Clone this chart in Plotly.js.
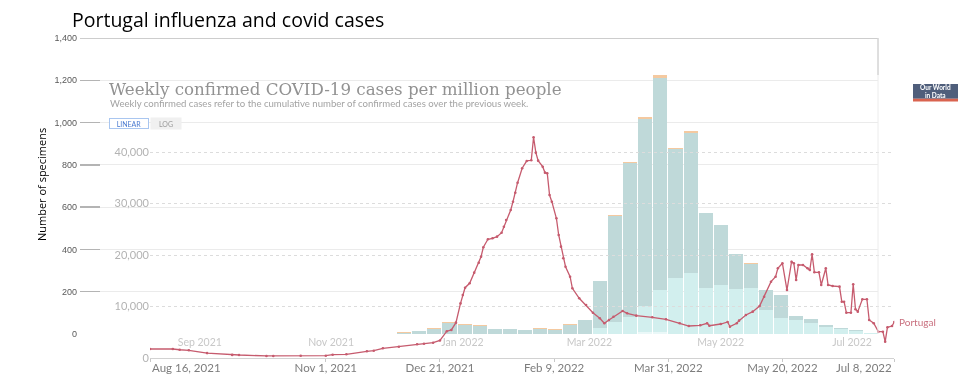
<!DOCTYPE html>
<html><head><meta charset="utf-8">
<script src="https://cdn.plot.ly/plotly-3.0.1.min.js"></script>
<style>
html,body{margin:0;padding:0;background:#fff;}
#chart{width:965px;height:380px;}
.subplot.x2y2 .scatterlayer{mix-blend-mode:multiply;}
</style></head><body><div id="chart"></div>
<script>
// ---- Influenza (weekly specimens) ----
const fluWeeks = ['2021-11-28','2021-12-05','2021-12-12','2021-12-19','2021-12-26','2022-01-02','2022-01-09','2022-01-16','2022-01-23','2022-01-30','2022-02-06','2022-02-13','2022-02-20','2022-02-27','2022-03-06','2022-03-13','2022-03-20','2022-03-27','2022-04-03','2022-04-10','2022-04-17','2022-04-24','2022-05-01','2022-05-08','2022-05-15','2022-05-22','2022-05-29','2022-06-05','2022-06-12','2022-06-19','2022-06-26','2022-07-03','2022-07-10'];
const fluWhite  = [0,0,0,0,0,0,0,0,0,0,0,0,0,0,0,0,0,8,8,0,0,0,0,0,0,0,0,0,0,0,0,0,0];
const fluCyan   = [0,0,0,0,0,0,0,0,0,0,0,0,0,0,30,58,80,124,200,266,289,218,232,213,216,113,75,66,50,32,22,14,4];
const fluTeal   = [2,7,12,22,51,44,40,23,23,18,24,21,43,66,219,500,730,884,1004,611,664,353,283,164,117,95,109,21,19,11,6,4,2];
const fluOrange = [0,1,2,5,6,5,2,1,1,3,4,1,4,2,2,5,5,9,13,2,7,3,1,1,1,0,0,0,0,0,0,0,0];
const fluYTicks = [0,200,400,600,800,1000,1200,1400];
const fluYLabels = ['0','200','400','600','800','1,000','1,200','1,400'];
const fluMonthTicks = ['2021-09-01','2021-11-01','2022-01-01','2022-03-01','2022-05-01','2022-07-01'];
const fluMonthLabels = ['Sep 2021','Nov 2021','Jan 2022','Mar 2022','May 2022','Jul 2022'];

// ---- COVID-19 weekly confirmed cases per million (Portugal) ----
const covidDates = ['2021-08-16','2021-08-26','2021-08-29','2021-09-02','2021-09-10','2021-09-21','2021-09-24','2021-10-06','2021-10-09','2021-10-21','2021-11-01','2021-11-04','2021-11-10','2021-11-19','2021-11-22','2021-11-26','2021-12-03','2021-12-11','2021-12-14','2021-12-18','2021-12-21','2021-12-24','2021-12-26','2021-12-28','2021-12-30','2021-12-31','2022-01-01','2022-01-03','2022-01-05','2022-01-07','2022-01-08','2022-01-09','2022-01-11','2022-01-13','2022-01-15','2022-01-17','2022-01-18','2022-01-19','2022-01-21','2022-01-22','2022-01-23','2022-01-24','2022-01-26','2022-01-28','2022-01-30','2022-01-31','2022-02-01','2022-02-02','2022-02-04','2022-02-05','2022-02-06','2022-02-07','2022-02-08','2022-02-10','2022-02-11','2022-02-12','2022-02-13','2022-02-14','2022-02-16','2022-02-17','2022-02-20','2022-02-23','2022-02-26','2022-03-01','2022-03-03','2022-03-05','2022-03-07','2022-03-11','2022-03-13','2022-03-17','2022-03-24','2022-03-30','2022-04-05','2022-04-09','2022-04-14','2022-04-17','2022-04-18','2022-04-23','2022-04-26','2022-04-27','2022-04-30','2022-05-01','2022-05-04','2022-05-07','2022-05-10','2022-05-12','2022-05-15','2022-05-17','2022-05-18','2022-05-20','2022-05-22','2022-05-24','2022-05-25','2022-05-26','2022-05-27','2022-05-29','2022-05-31','2022-06-01','2022-06-02','2022-06-03','2022-06-05','2022-06-06','2022-06-08','2022-06-09','2022-06-11','2022-06-14','2022-06-15','2022-06-16','2022-06-17','2022-06-19','2022-06-20','2022-06-21','2022-06-22','2022-06-24','2022-06-26','2022-06-27','2022-06-29','2022-07-01','2022-07-03','2022-07-04','2022-07-05','2022-07-07','2022-07-08'];
const covidValues = [1750,1750,1600,1500,950,600,580,400,390,450,450,640,720,1300,1420,1880,2180,2660,2780,2970,3400,5200,5450,6860,10600,12230,13650,14500,16570,18500,19670,21500,23050,23250,23560,24330,25500,26800,28740,30350,32100,34040,36840,38260,38390,42860,39870,38320,37150,35990,35870,31650,30350,27130,23890,21620,19360,17730,15790,13540,11590,10290,8800,7710,6740,7380,8020,9130,8680,8220,7900,7520,6740,6210,6350,6740,6270,6600,6990,6080,6740,7250,8350,9000,10100,11900,14820,15790,17420,18390,13200,18700,18390,15150,18060,18060,17420,17090,20140,16640,16640,14180,17420,14180,13980,13850,10930,10930,8800,8800,14310,9460,9000,11400,11400,7380,6740,5110,5110,3170,5960,6210,6990];
const covidTickDates = ['2021-08-16','2021-11-01','2021-12-21','2022-02-09','2022-03-31','2022-05-20','2022-07-08'];
const covidTickLabels = ['Aug 16, 2021','Nov 1, 2021','Dec 21, 2021','Feb 9, 2022','Mar 31, 2022','May 20, 2022','Jul 8, 2022'];
const covidYTicks = [0,10000,20000,30000,40000];
const covidYLabels = ['0','10,000','20,000','30,000','40,000'];
const covidCountry = 'Portugal';

const W = 965, H = 380;
const px = v => v / W;
const py = v => (H - v) / H;

const traces = [
  {type:'bar', x:fluWeeks, y:fluWhite,  marker:{color:'#eaf8f8'}, xaxis:'x', yaxis:'y'},
  {type:'bar', x:fluWeeks, y:fluCyan,   marker:{color:'#d2efee'}, xaxis:'x', yaxis:'y'},
  {type:'bar', x:fluWeeks, y:fluTeal,   marker:{color:'#bfd9d9'}, xaxis:'x', yaxis:'y'},
  {type:'bar', x:fluWeeks, y:fluOrange, marker:{color:'#f4c9a0'}, xaxis:'x', yaxis:'y'},
  {type:'scatter', mode:'lines+markers', x:covidDates, y:covidValues, xaxis:'x2', yaxis:'y2',
   line:{color:'#c65b6e', width:1.3}, marker:{color:'#c65b6e', size:2.6}}
];

const lastIdx = covidDates.length - 1;
const midTickText = covidTickLabels.map((t,i) => (i === 0 || i === covidTickLabels.length-1) ? '' : t);

const layout = {
  width: W, height: H,
  margin: {l:0, r:0, t:0, b:0},
  paper_bgcolor: '#ffffff',
  plot_bgcolor: 'rgba(0,0,0,0)',
  showlegend: false,
  barmode: 'stack',
  bargap: 0.07,
  hovermode: false,
  xaxis: {
    domain: [px(80), px(878)], anchor: 'y', type: 'date',
    range: ['2021-07-07 08:00', '2022-07-13 02:00'],
    tickvals: fluMonthTicks, ticktext: fluMonthLabels,
    showgrid: false, zeroline: false, showline: false, ticks: '',
    tickfont: {family: 'Lato', size: 10.5, color: '#c8c8c8'}
  },
  yaxis: {
    domain: [py(334), py(38)], anchor: 'x', range: [0, 1400],
    tickvals: fluYTicks, ticktext: fluYLabels,
    showgrid: true, gridcolor: '#ebebeb', gridwidth: 1,
    zeroline: false, showline: false,
    ticks: 'inside', ticklen: 20, tickwidth: 1.4, tickcolor: '#b4b4b4',
    ticklabelstandoff: 2,
    tickfont: {family: 'Liberation Sans', size: 9, color: '#595959'}
  },
  xaxis2: {
    domain: [px(150), px(894.3)], anchor: 'y2', type: 'date',
    range: ['2021-08-16', '2022-07-08'],
    tickvals: covidTickDates, ticktext: midTickText,
    showline: true, linecolor: '#d2d2d2', linewidth: 1,
    ticks: 'outside', ticklen: 3, tickcolor: '#c8c8c8',
    ticklabelstandoff: -4,
    showgrid: false, zeroline: false,
    tickfont: {family: 'Lato', size: 11.5, color: '#7d7d7d'}
  },
  yaxis2: {
    domain: [py(358), py(358 - 45000 * 0.00515)], anchor: 'x2', range: [0, 45000],
    tickvals: covidYTicks, ticktext: covidYLabels,
    showgrid: true, gridcolor: '#dcdcdc', griddash: 'dot', gridwidth: 1,
    zeroline: false, showline: false, ticks: '',
    tickfont: {family: 'Lato', size: 11, color: '#b3b3b3'}
  },
  shapes: [
    {type:'line', xref:'x domain', x0:0, x1:1, yref:'y', y0:1400, y1:1400, line:{color:'#bdbdbd', width:1.3}},
    {type:'line', xref:'x domain', x0:1, x1:1, yref:'y', y0:0, y1:1400, line:{color:'#ececec', width:1}},
    {type:'line', xref:'x domain', x0:1, x1:1, yref:'y', y0:1225, y1:1400, line:{color:'#c8c8c8', width:1}},
    {type:'rect', xref:'paper', yref:'paper', x0:px(913), x1:px(958), y0:py(98.7), y1:py(84), fillcolor:'#4f5e7b', line:{width:0}},
    {type:'rect', xref:'paper', yref:'paper', x0:px(913), x1:px(958), y0:py(101.5), y1:py(98.7), fillcolor:'#d9634f', line:{width:0}}
  ],
  annotations: [
    {text:'Portugal influenza and covid cases', xref:'paper', yref:'paper', x:px(70), y:py(19), xanchor:'left', yanchor:'middle', showarrow:false,
     font:{family:'Open Sans', size:19.5, color:'#000'}},
    {text:'Number of specimens', xref:'paper', yref:'paper', x:px(42), y:py(185), xanchor:'center', yanchor:'middle', textangle:-90, showarrow:false,
     font:{family:'Open Sans', size:11, color:'#000'}},
    {text:'Weekly confirmed COVID-19 cases per million people', xref:'paper', yref:'paper', x:px(107), y:py(89), xanchor:'left', yanchor:'middle', showarrow:false,
     font:{family:'DejaVu Serif', size:16.7, color:'#929292'}},
    {text:'Weekly confirmed cases refer to the cumulative number of confirmed cases over the previous week.', xref:'paper', yref:'paper', x:px(108), y:py(104), xanchor:'left', yanchor:'middle', showarrow:false,
     font:{family:'Lato', size:9.6, color:'#a3a3a3'}},
    {text:'LINEAR', xref:'paper', yref:'paper', x:px(109), y:py(123), xanchor:'left', yanchor:'middle', showarrow:false,
     width:36, height:7, align:'center',
     font:{family:'Lato', size:7, color:'#4a7ad0'}, bordercolor:'#a9c6f0', borderwidth:1, borderpad:1, bgcolor:'#ffffff'},
    {text:'LOG', xref:'paper', yref:'paper', x:px(150), y:py(123), xanchor:'left', yanchor:'middle', showarrow:false,
     width:26, height:7, align:'center',
     font:{family:'Lato', size:7, color:'#9a9a9a'}, bgcolor:'#f0f0f0', borderpad:2},
    {text:covidTickLabels[0], xref:'x2', x:covidTickDates[0], yref:'paper', y:py(367), xanchor:'left', yanchor:'middle', showarrow:false,
     font:{family:'Lato', size:11.5, color:'#7d7d7d'}},
    {text:covidTickLabels[covidTickLabels.length-1], xref:'x2', x:covidTickDates[covidTickDates.length-1], yref:'paper', y:py(367), xanchor:'right', yanchor:'middle', showarrow:false,
     font:{family:'Lato', size:11.5, color:'#7d7d7d'}},
    {text:covidCountry, xref:'x2', yref:'y2', x:covidDates[lastIdx], y:covidValues[lastIdx], xanchor:'left', yanchor:'middle', xshift:3, showarrow:false,
     font:{family:'Lato', size:10, color:'#c9707f'}},
    {text:'<b>Our World</b><br><b>in Data</b>', xref:'paper', yref:'paper', x:px(935.5), y:py(91.3), xanchor:'center', yanchor:'middle', showarrow:false,
     font:{family:'Lato', size:6.5, color:'#ffffff'}}
  ]
};

Plotly.newPlot('chart', traces, layout, {displayModeBar:false, staticPlot:true});
</script>
</body></html>
